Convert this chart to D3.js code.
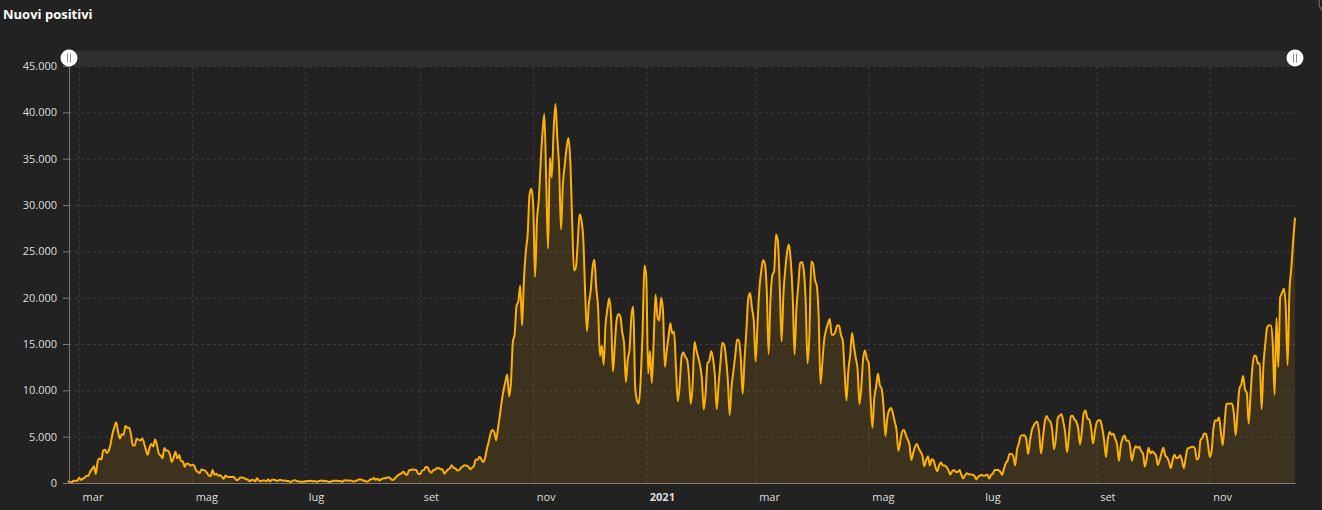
<!DOCTYPE html>
<html>
<head>
<meta charset="utf-8">
<script src="https://cdn.jsdelivr.net/npm/d3@7"></script>
<style>
  html, body { margin: 0; padding: 0; background: #222222; }
  svg { display: block; font-family: "Open Sans", "Noto Sans", sans-serif; }
</style>
</head>
<body>
<div id="chart"></div>
<script>
// Nuovi positivi giornalieri (un array per mese)
const feb20 = [221, 93, 78, 250, 238, 240];
const mar20 = [566, 342, 466, 587, 769, 778, 1247, 1492, 1797, 977,
  2313, 2651, 2547, 3497, 3590, 3233, 3526, 4207, 5322, 5986,
  6557, 5560, 4789, 5249, 5210, 6153, 5959, 5974, 5217, 4050, 4053];
const apr20 = [4782, 4668, 4585, 4805, 4316, 3599, 3039, 3836, 4204, 3951,
  4694, 4092, 3153, 2972, 2667, 3786, 3493, 3491, 3047, 2256,
  2729, 3370, 2646, 3021, 2357, 2324, 1739, 2091, 2086, 1872];
const mag20 = [1965, 1900, 1389, 1221, 1075, 1444, 1401, 1327, 1083, 802,
  744, 1402, 888, 992, 789, 875, 675, 451, 813, 665,
  642, 652, 669, 531, 300, 397, 584, 593, 516, 416, 355];
const giu20 = [178, 318, 321, 177, 518, 270, 197, 280, 283, 202,
  379, 163, 346, 338, 301, 210, 329, 333, 251, 262,
  224, 221, 113, 190, 296, 259, 175, 174, 126, 142];
const lug20 = [182, 201, 223, 235, 192, 208, 138, 193, 229, 276,
  188, 234, 169, 114, 163, 230, 233, 249, 219, 218,
  129, 282, 306, 252, 275, 255, 170, 212, 289, 386, 379];
const ago20 = [295, 239, 159, 190, 384, 402, 552, 347, 463, 259,
  412, 481, 523, 574, 629, 479, 320, 403, 642, 845,
  947, 1071, 1210, 953, 878, 1367, 1411, 1460, 1444, 1365, 996];
const set20 = [978, 1326, 1397, 1733, 1695, 1297, 1108, 1370, 1434, 1597,
  1616, 1501, 1458, 1008, 1229, 1452, 1585, 1907, 1638, 1587,
  1350, 1392, 1640, 1786, 1912, 1869, 1766, 1494, 1648, 1851];
const ott20 = [2548, 2499, 2844, 2578, 2257, 2677, 3678, 4458, 5372, 5724,
  5456, 4619, 5901, 7332, 8804, 10010, 10925, 11705, 9338, 10874,
  15199, 16079, 19143, 19644, 21273, 17012, 21994, 24991, 26831, 31084, 31758];
const nov20 = [29907, 22253, 28244, 30550, 34505, 37809, 39811, 32616, 25271, 35098,
  32961, 37978, 40902, 37255, 33979, 27354, 32191, 34283, 36176, 37242,
  34767, 28337, 22930, 23232, 25853, 29003, 28352, 26323, 20648, 16377];
const dic20 = [19350, 20709, 23225, 24099, 21052, 18887, 13720, 14842, 12756, 16999,
  18727, 19903, 17938, 12030, 14844, 17572, 18236, 17992, 16308, 15104,
  10872, 13318, 14522, 18040, 19037, 10407, 8913, 8585, 11212, 16202, 23477];
const gen21 = [22211, 11831, 14245, 10800, 15378, 20331, 18020, 17533, 19978, 18627,
  12532, 14242, 15774, 17246, 16146, 16310, 12545, 8824, 10497, 13571,
  14078, 13633, 13331, 11629, 8561, 10593, 15204, 14372, 13574, 12715, 11252];
const feb21 = [7925, 9660, 12922, 13189, 14218, 13442, 11641, 7970, 10630, 12956,
  15146, 14931, 13532, 11068, 7351, 10386, 12074, 13762, 15479, 15370,
  13452, 9630, 13314, 16424, 19886, 20499, 18916, 17455];
const mar21 = [13114, 17083, 20884, 22865, 24036, 23641, 20765, 13902, 19749, 22409,
  22865, 26824, 26062, 21315, 15267, 20396, 23059, 24935, 25735, 23832,
  20159, 13846, 18765, 21267, 23696, 23839, 22900, 19611, 12916, 16017, 23904];
const apr21 = [23649, 21932, 21261, 18025, 10680, 13000, 15500, 16500, 17200, 17700,
  16000, 16000, 16300, 17000, 17000, 16000, 15400, 12000, 8900, 12100,
  13800, 16200, 14800, 13500, 12300, 8500, 10400, 13400, 14300, 13400];
const mag21 = [12965, 9148, 5948, 9116, 10404, 11807, 10554, 10176, 8292, 5080,
  6946, 7852, 8085, 7567, 6659, 5753, 3455, 4452, 5506, 5741,
  5218, 4717, 4147, 2490, 3224, 3937, 4200, 3738, 3351, 2949, 1820];
const giu21 = [2483, 2897, 1896, 2557, 2436, 1723, 1273, 1896, 2199, 1901,
  1901, 1723, 1390, 907, 1255, 1400, 1197, 1197, 1390, 881,
  495, 835, 1055, 927, 952, 882, 794, 389, 679, 776];
const lug21 = [882, 794, 808, 907, 480, 888, 1010, 1394, 1390, 1400,
  1203, 888, 1553, 2153, 2455, 3121, 3127, 2898, 1889, 3558,
  4259, 5057, 5143, 5140, 4743, 3117, 4522, 5696, 6171, 6513, 6599];
const ago21 = [5321, 3190, 4845, 6596, 7230, 6826, 6619, 5735, 3635, 4794,
  6968, 7270, 7409, 6585, 5434, 3330, 5013, 7162, 7260, 6860,
  6617, 5914, 4168, 5559, 7548, 7826, 6959, 6860, 5959, 4257, 5498];
const set21 = [6503, 6761, 6735, 5923, 4664, 2800, 4720, 5498, 5193, 5315,
  4767, 4157, 2409, 4021, 4830, 5117, 4552, 4578, 3983, 2407,
  3377, 3970, 3797, 3905, 3437, 3150, 1772, 2648, 3804, 3212];
const ott21 = [3405, 3230, 2983, 1953, 2466, 3235, 3794, 2987, 2748, 2278,
  1597, 2494, 3052, 2668, 2732, 2983, 2437, 1597, 2697, 3702,
  3794, 3882, 3909, 3725, 2535, 2697, 4598, 4866, 5335, 5299, 4256];
const nov21 = [2818, 3430, 5865, 6764, 6735, 7070, 5531, 4079, 6420, 8516,
  8569, 8552, 8588, 7567, 5144, 7698, 10172, 10638, 11555, 10098,
  9709, 6404, 9430, 12448, 13764, 13686, 12877, 12932, 7975, 12764];
const dic21 = [15085, 16806, 17029, 17010, 15021, 9503, 17800, 12527, 20000, 20497,
  20975, 18988, 12712, 20677, 23195, 26109, 28632];

// primo giorno di ciascun array mensile
const monthStarts = [
  ["2020-02-24", feb20], ["2020-03-01", mar20], ["2020-04-01", apr20], ["2020-05-01", mag20],
  ["2020-06-01", giu20], ["2020-07-01", lug20], ["2020-08-01", ago20], ["2020-09-01", set20],
  ["2020-10-01", ott20], ["2020-11-01", nov20], ["2020-12-01", dic20], ["2021-01-01", gen21],
  ["2021-02-01", feb21], ["2021-03-01", mar21], ["2021-04-01", apr21], ["2021-05-01", mag21],
  ["2021-06-01", giu21], ["2021-07-01", lug21], ["2021-08-01", ago21], ["2021-09-01", set21],
  ["2021-10-01", ott21], ["2021-11-01", nov21], ["2021-12-01", dic21]
];

const monthNames = ["gen", "feb", "mar", "apr", "mag", "giu", "lug", "ago", "set", "ott", "nov", "dic"];
const yTickValues = [0, 5000, 10000, 15000, 20000, 25000, 30000, 35000, 40000, 45000];

const width = 1322, height = 510;
const plot = { left: 68, right: 1295, top: 66, bottom: 483 };
const lineColor = "#ffb000";

const parseDay = d3.timeParse("%Y-%m-%d");
const data = [];
monthStarts.forEach(([start, values]) => {
  const d0 = parseDay(start);
  values.forEach((v, i) => data.push({ date: d3.timeDay.offset(d0, i), value: v }));
});

const itLocale = d3.formatLocale({ decimal: ",", thousands: ".", grouping: [3], currency: ["€", ""] });
const fmt = itLocale.format(",.0f");

const svg = d3.select("#chart").append("svg")
  .attr("width", width)
  .attr("height", height);

svg.append("rect").attr("width", width).attr("height", height).attr("fill", "#222222");

svg.append("text")
  .attr("x", 3).attr("y", 19)
  .attr("fill", "#ffffff")
  .attr("font-size", 13)
  .attr("font-weight", 700)
  .text("Nuovi positivi");

// piccolo pulsante tagliato in alto a destra
svg.append("circle")
  .attr("cx", 1329).attr("cy", 3).attr("r", 10)
  .attr("fill", "none").attr("stroke", "#6a6a6a").attr("stroke-width", 1.2);

const x = d3.scaleTime()
  .domain(d3.extent(data, d => d.date))
  .range([plot.left, plot.right]);

const y = d3.scaleLinear()
  .domain([0, 45000])
  .range([plot.bottom, plot.top]);

const monthTicks = d3.timeMonth.every(2).range(d3.timeMonth.ceil(x.domain()[0]), x.domain()[1]);

// griglia
svg.append("g")
  .attr("class", "grid-y")
  .attr("transform", `translate(${plot.left + 1},0)`)
  .call(d3.axisLeft(y).tickValues(yTickValues.slice(1)).tickSize(-(plot.right - plot.left - 1)).tickFormat(""))
  .call(g => g.select(".domain").remove())
  .call(g => g.selectAll("line").attr("stroke", "#3d3d3d").attr("stroke-dasharray", "3,3"));

svg.append("g")
  .attr("class", "grid-x")
  .attr("transform", `translate(0,${plot.bottom})`)
  .call(d3.axisBottom(x).tickValues(monthTicks).tickSize(-(plot.bottom - plot.top)).tickFormat(""))
  .call(g => g.select(".domain").remove())
  .call(g => g.selectAll("line").attr("stroke", "#3d3d3d").attr("stroke-dasharray", "3,3"));

// area + linea
const area = d3.area()
  .x(d => x(d.date))
  .y0(y(0))
  .y1(d => y(d.value))
  .curve(d3.curveMonotoneX);

const line = d3.line()
  .x(d => x(d.date))
  .y(d => y(d.value))
  .curve(d3.curveMonotoneX);

svg.append("path")
  .datum(data)
  .attr("d", area)
  .attr("fill", lineColor)
  .attr("fill-opacity", 0.12);

svg.append("path")
  .datum(data)
  .attr("d", line)
  .attr("fill", "none")
  .attr("stroke", lineColor)
  .attr("stroke-width", 2)
  .attr("stroke-linejoin", "round");

// assi
svg.append("g")
  .attr("transform", `translate(${plot.left + 1},0)`)
  .call(d3.axisLeft(y).tickValues(yTickValues).tickFormat(fmt).tickSize(6).tickSizeOuter(0).tickPadding(6))
  .call(g => g.select(".domain").attr("stroke", "#7a7a7a"))
  .call(g => g.selectAll(".tick line").attr("stroke", "#7a7a7a"))
  .call(g => g.selectAll("text").attr("fill", "#dddddd").attr("font-size", 11)
    .attr("font-family", "\"Open Sans\", \"Noto Sans\", sans-serif"));

svg.append("g")
  .attr("transform", `translate(0,${plot.bottom})`)
  .call(d3.axisBottom(x).tickValues(monthTicks).tickSize(0).tickSizeOuter(0).tickPadding(10)
    .tickFormat(d => d.getMonth() === 0 ? String(d.getFullYear()) : monthNames[d.getMonth()]))
  .call(g => g.select(".domain").attr("stroke", "#7a7a7a"))
  .call(g => g.selectAll("text")
    .attr("fill", "#dddddd")
    .attr("font-size", 11)
    .attr("font-family", "\"Open Sans\", \"Noto Sans\", sans-serif")
    .attr("text-anchor", "start")
    .attr("dx", 3)
    .attr("font-weight", d => d.getMonth() === 0 ? 700 : 400));

// barra di scorrimento in alto
const sliderY = 58;
svg.append("rect")
  .attr("x", plot.left).attr("y", 51)
  .attr("width", plot.right - plot.left).attr("height", 15)
  .attr("fill", "#2f2f2f");

[plot.left + 1, plot.right].forEach(cx => {
  const grip = svg.append("g").attr("transform", `translate(${cx},${sliderY})`);
  grip.append("circle").attr("r", 8.5).attr("fill", "#ffffff");
  [-1.5, 1.5].forEach(dx => {
    grip.append("line")
      .attr("x1", dx).attr("x2", dx).attr("y1", -4.5).attr("y2", 4.5)
      .attr("stroke", "#8a8a8a").attr("stroke-width", 1);
  });
});
</script>
</body>
</html>
